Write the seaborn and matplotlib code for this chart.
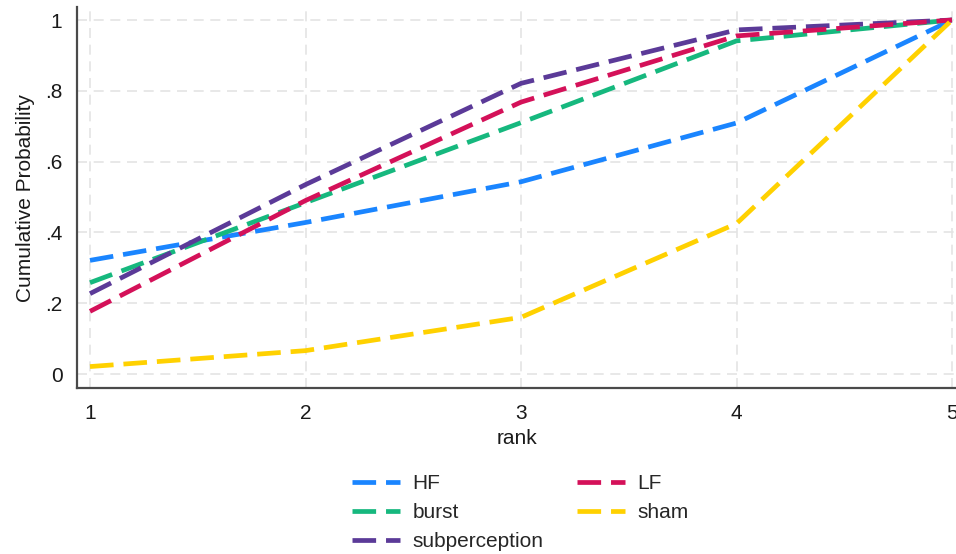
import numpy as np
import pandas as pd
import matplotlib
matplotlib.use("Agg")
import matplotlib.pyplot as plt
import seaborn as sns
from matplotlib.lines import Line2D

ranks = [1, 2, 3, 4, 5]
groups = ["HF", "burst", "subperception", "LF", "sham"]
hf = [0.321, 0.428, 0.543, 0.709, 1.0]
burst = [0.258, 0.484, 0.710, 0.941, 1.0]
subperception = [0.227, 0.535, 0.821, 0.972, 1.0]
lf = [0.177, 0.490, 0.768, 0.955, 1.0]
sham = [0.021, 0.066, 0.160, 0.425, 1.0]
y_ticks = [0, 0.2, 0.4, 0.6, 0.8, 1.0]
y_tick_labels = ["0", ".2", ".4", ".6", ".8", "1"]

colors = {
    "HF": "#1A85FF",
    "burst": "#16B87E",
    "subperception": "#5B3A98",
    "LF": "#D41159",
    "sham": "#FFD100",
}

series = {"HF": hf, "burst": burst, "subperception": subperception,
          "LF": lf, "sham": sham}
df = pd.DataFrame(
    [(g, r, v) for g in groups for r, v in zip(ranks, series[g])],
    columns=["group", "rank", "prob"],
)

sns.set_style("white")
plt.rcParams["font.family"] = ["Liberation Sans", "DejaVu Sans"]

fig = plt.figure(figsize=(9.56, 5.54), dpi=100)
ax = fig.add_axes([77 / 956, 1 - 388 / 554, 1 - 77 / 956, (388 - 7) / 554])

lw = 3.4
dash = (5.0, 2.1)
sns.lineplot(
    data=df, x="rank", y="prob", hue="group", hue_order=groups,
    style="group", style_order=groups, dashes={g: dash for g in groups},
    palette=colors, linewidth=lw, legend=False, ax=ax,
)

ax.set_xlim(1 - 13 / 215.5, 5 + 4 / 215.5)
ax.set_ylim(-14 / 354, 1 + 13 / 354)
ax.set_xticks(ranks)
ax.set_xticklabels([str(r) for r in ranks])
ax.set_yticks(y_ticks)
ax.set_yticklabels(y_tick_labels)

for sp in ["top", "right"]:
    ax.spines[sp].set_visible(False)
for sp in ["left", "bottom"]:
    ax.spines[sp].set_color("#4a4a4a")
    ax.spines[sp].set_linewidth(1.6)

ax.grid(True, color="#e4e4e4", linestyle=(0, (6, 4)), linewidth=1.2)
ax.set_axisbelow(True)
ax.tick_params(axis="both", which="major", direction="out", length=6.5,
               width=1.3, color="#4a4a4a", labelsize=15, labelcolor="#1a1a1a",
               pad=4)
ax.tick_params(axis="x", pad=5)

ax.set_xlabel("rank", fontsize=15, color="#1a1a1a", labelpad=4)
ax.set_ylabel("Cumulative Probability", fontsize=15, color="#1a1a1a",
              labelpad=7)

handles = [Line2D([0], [0], color=colors[g], linewidth=lw,
                  linestyle=(0, dash)) for g in groups]
fig.legend(handles, groups, loc="upper left", ncol=2,
           bbox_to_anchor=(352 / 956, 1 - 474 / 554), frameon=False,
           borderpad=0, borderaxespad=0,
           fontsize=15, handlelength=2.3, handletextpad=0.6,
           columnspacing=1.6, labelspacing=0.48)

fig.savefig("out.png", dpi=100)
